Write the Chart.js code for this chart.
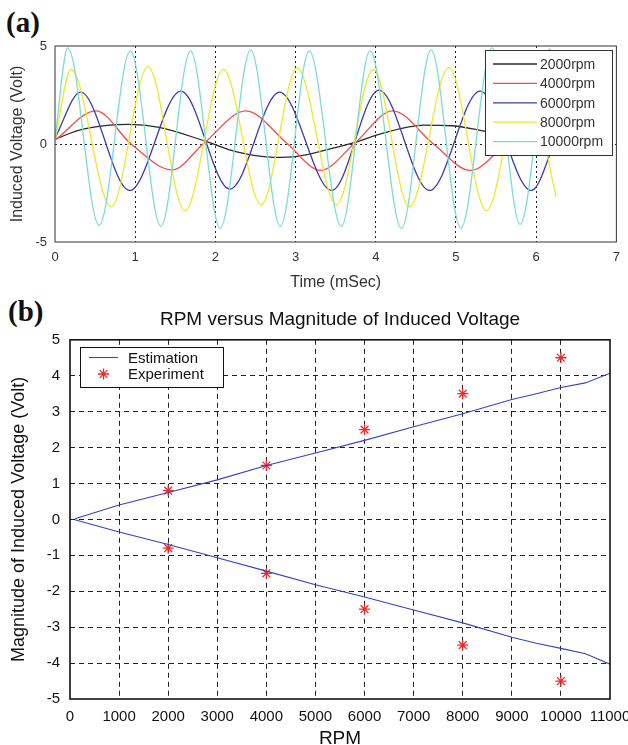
<!DOCTYPE html>
<html>
<head>
<meta charset="utf-8">
<script src="https://cdn.jsdelivr.net/npm/chart.js@4/dist/chart.umd.min.js"></script>
<style>
body { margin: 0; background: #fff; width: 628px; height: 745px; overflow: hidden; position: relative; }
.tag { position: absolute; font: bold 29px "Liberation Serif", serif; line-height: 29px; color: #111; }
#wa { position: absolute; left: 0; top: 0; }
#wb { position: absolute; left: 0; top: 290px; }
</style>
</head>
<body>
<div class="tag" style="left:6px;top:8px">(a)</div>
<div class="tag" style="left:8px;top:297px">(b)</div>
<canvas id="wa" width="628" height="290"></canvas>
<canvas id="wb" width="640" height="455"></canvas>
<script>
// (a) scope traces - peaks / troughs (time in ms, volts)
var t2000 = [0, 0.35, 0.92, 1.3, 1.87, 2.28, 2.73, 3.02, 3.43, 3.74, 4.05, 4.6, 4.95, 5.3, 5.8, 6.25];
var v2000 = [0.25, 0.76, 1.0, 0.85, 0.15, -0.42, -0.68, -0.63, -0.25, 0.08, 0.5, 0.96, 0.93, 0.7, 0.3, -0.1];
var t4000 = [0, 0.51, 0.95, 1.46, 1.86, 2.38, 2.9, 3.31, 3.74, 4.21, 4.72, 5.18, 5.62, 6.1, 6.25];
var v4000 = [0.2, 1.69, 0, -1.32, 0.05, 1.69, 0, -1.35, 0.05, 1.69, 0, -1.35, 0, 1.6, 1.5];
var t6000 = [0, 0.32, 0.93, 1.57, 2.18, 2.8, 3.45, 4.04, 4.67, 5.3, 5.94, 6.25];
var v6000 = [0.3, 2.65, -2.37, 2.7, -2.3, 2.65, -2.37, 2.75, -2.37, 2.7, -2.37, 0.3];
var t8000 = [0, 0.2, 0.7, 1.16, 1.62, 2.1, 2.57, 3.02, 3.51, 3.97, 4.42, 4.91, 5.38, 5.85, 6.25];
var v8000 = [0.2, 3.8, -3.2, 3.95, -3.4, 3.8, -3.1, 3.87, -3.1, 3.8, -3.2, 3.9, -3.4, 3.8, -2.7];
var t10000 = [0, 0.16, 0.55, 0.94, 1.32, 1.69, 2.06, 2.44, 2.81, 3.17, 3.57, 3.93, 4.32, 4.69, 5.06, 5.45, 5.8, 6.17, 6.25];
var v10000 = [0.3, 4.9, -4.15, 4.75, -4.2, 4.75, -4.3, 4.8, -4.2, 4.75, -4.2, 4.75, -4.3, 4.8, -4.3, 4.9, -4.1, 4.85, 3.5];
var rpmNames = ['2000rpm', '4000rpm', '6000rpm', '8000rpm', '10000rpm'];

// (b) magnitude vs rpm
var rpmEst = [100, 1000, 2000, 3000, 4000, 5000, 6000, 7000, 8000, 9000, 9500, 10000, 10500, 11000];
var estPos = [0.02, 0.40, 0.75, 1.10, 1.50, 1.85, 2.20, 2.58, 2.94, 3.34, 3.50, 3.67, 3.80, 4.07];
var estNeg = [-0.01, -0.35, -0.70, -1.07, -1.44, -1.82, -2.16, -2.52, -2.88, -3.28, -3.45, -3.59, -3.74, -4.03];
var rpmExp = [2000, 4000, 6000, 8000, 10000];
var expPos = [0.8, 1.5, 2.5, 3.5, 4.5];
var expNeg = [-0.8, -1.5, -2.5, -3.5, -4.5];

var FONT = '"Liberation Sans", Arial, sans-serif';

function pts(xs, ys) {
  return xs.map(function (x, i) { return { x: x, y: ys[i] }; });
}

// box round the plot area (matlab style)
var frame = {
  id: 'frame',
  afterDraw: function (chart, args, o) {
    var a = chart.chartArea, c = chart.ctx;
    c.save();
    c.strokeStyle = o.color;
    c.lineWidth = o.width;
    c.strokeRect(a.left, a.top, a.right - a.left, a.bottom - a.top);
    c.restore();
  }
};

// legend with a box, placed inside the axes
var boxLegend = {
  id: 'boxLegend',
  afterDraw: function (chart, args, o) {
    var c = chart.ctx;
    c.save();
    c.fillStyle = '#fff';
    c.fillRect(o.x, o.y, o.w, o.h);
    c.strokeStyle = o.border;
    c.lineWidth = 1;
    c.strokeRect(o.x + 0.5, o.y + 0.5, o.w, o.h);
    c.font = o.font;
    c.textBaseline = 'middle';
    c.textAlign = 'left';
    o.items.forEach(function (idx, k) {
      var ds = chart.data.datasets[idx];
      var y = o.y + o.first + k * o.step;
      c.strokeStyle = ds.borderColor;
      c.lineWidth = ds.borderWidth || 1;
      c.beginPath();
      if (ds.showLine === false) {
        var cx = (o.x0 + o.x1) / 2, r = 5.5, d = r * 0.7;
        c.moveTo(cx - r, y); c.lineTo(cx + r, y);
        c.moveTo(cx, y - r); c.lineTo(cx, y + r);
        c.moveTo(cx - d, y - d); c.lineTo(cx + d, y + d);
        c.moveTo(cx - d, y + d); c.lineTo(cx + d, y - d);
      } else {
        c.moveTo(o.x0, y); c.lineTo(o.x1, y);
      }
      c.stroke();
      c.fillStyle = o.color;
      c.fillText(ds.label, o.tx, y + 1);
    });
    c.restore();
  }
};

function trace(label, xs, ys, color, order) {
  return {
    label: label, data: pts(xs, ys), showLine: true, borderColor: color,
    borderWidth: 1.3, pointRadius: 0, cubicInterpolationMode: 'monotone', order: order
  };
}

var hide = 'rgba(0,0,0,0)';

new Chart(document.getElementById('wa'), {
  type: 'scatter',
  data: {
    datasets: [
      trace(rpmNames[0], t2000, v2000, '#2a2a2a', 5),
      trace(rpmNames[1], t4000, v4000, 'rgb(245,75,75)', 4),
      trace(rpmNames[2], t6000, v6000, 'rgb(60,60,175)', 3),
      trace(rpmNames[3], t8000, v8000, 'rgb(238,232,45)', 2),
      trace(rpmNames[4], t10000, v10000, 'rgb(125,220,212)', 1)
    ]
  },
  options: {
    responsive: false,
    animation: false,
    layout: { padding: { top: 46, right: 5, left: 0, bottom: 0 } },
    plugins: {
      legend: { display: false },
      tooltip: { enabled: false },
      frame: { color: '#333', width: 1 },
      boxLegend: {
        x: 485, y: 50, w: 127, h: 105, first: 14, step: 19.4,
        x0: 493, x1: 537, tx: 540, font: '14px ' + FONT, color: '#333', border: '#333',
        items: [0, 1, 2, 3, 4]
      }
    },
    scales: {
      x: {
        type: 'linear', min: 0, max: 7,
        ticks: { stepSize: 1, padding: 8, maxRotation: 0, color: '#333', font: { family: FONT, size: 13 } },
        grid: {
          drawTicks: false, lineWidth: 1, borderDash: [2, 3],
          color: function (c) { return (c.tick && (c.tick.value === 0 || c.tick.value === 7)) ? hide : '#222'; }
        },
        border: { display: false, dash: [2, 3] },
        title: { display: true, text: 'Time (mSec)', color: '#333', padding: 0, font: { family: FONT, size: 16, lineHeight: 0.9 } },
        afterFit: function (s) { s.height = 48; }
      },
      y: {
        min: -5, max: 5,
        ticks: { stepSize: 5, padding: 8, color: '#333', font: { family: FONT, size: 13 } },
        grid: {
          drawTicks: false, lineWidth: 1, borderDash: [2, 3],
          color: function (c) { return (c.tick && c.tick.value === 0) ? '#222' : hide; }
        },
        border: { display: false, dash: [2, 3] },
        title: { display: true, text: 'Induced Voltage (Volt)', color: '#333', padding: { top: 8, bottom: 0 }, font: { family: FONT, size: 16 } },
        afterFit: function (s) { s.width = 55; }
      }
    }
  },
  plugins: [frame, boxLegend]
});

new Chart(document.getElementById('wb'), {
  type: 'scatter',
  data: {
    datasets: [
      { label: 'Estimation', data: pts(rpmEst, estPos), showLine: true, borderColor: 'rgb(50,70,185)', borderWidth: 1.1, pointRadius: 0 },
      { label: 'Estimation', data: pts(rpmEst, estNeg), showLine: true, borderColor: 'rgb(50,70,185)', borderWidth: 1.1, pointRadius: 0 },
      { label: 'Experiment', data: pts(rpmExp, expPos), showLine: false, pointStyle: 'star', pointRadius: 5.5, borderColor: 'rgb(235,45,45)', borderWidth: 1.3 },
      { label: 'Experiment', data: pts(rpmExp, expNeg), showLine: false, pointStyle: 'star', pointRadius: 5.5, borderColor: 'rgb(235,45,45)', borderWidth: 1.3 }
    ]
  },
  options: {
    responsive: false,
    animation: false,
    layout: { padding: { top: 0, right: 30, left: 0, bottom: 0 } },
    plugins: {
      legend: { display: false },
      tooltip: { enabled: false },
      title: {
        display: true, fullSize: false, text: 'RPM versus Magnitude of Induced Voltage', color: '#111',
        font: { family: FONT, size: 19, weight: 'normal', lineHeight: 1.2 }, padding: { top: 18, bottom: 9 }
      },
      frame: { color: '#111', width: 1.6 },
      boxLegend: {
        x: 80, y: 57, w: 143, h: 40, first: 10.5, step: 16.5,
        x0: 89, x1: 118, tx: 128, font: '15px ' + FONT, color: '#111', border: '#111',
        items: [0, 2]
      }
    },
    scales: {
      x: {
        type: 'linear', min: 0, max: 11000,
        ticks: { stepSize: 1000, padding: 9, autoSkip: false, maxRotation: 0, color: '#111', font: { family: FONT, size: 15 },
          callback: function (v) { return v; } },
        grid: {
          drawTicks: false, lineWidth: 1, borderDash: [5, 4],
          color: function (c) { return (c.tick && (c.tick.value === 0 || c.tick.value === 11000)) ? hide : '#222'; }
        },
        border: { display: false, dash: [5, 4] },
        title: { display: true, text: 'RPM', color: '#111', padding: 0, font: { family: FONT, size: 19, lineHeight: 0.7 } },
        afterFit: function (s) { s.height = 46; }
      },
      y: {
        min: -5, max: 5,
        ticks: { stepSize: 1, padding: 10, color: '#111', font: { family: FONT, size: 15 } },
        grid: {
          drawTicks: false, lineWidth: 1, borderDash: [5, 4],
          color: function (c) { return (c.tick && (c.tick.value === -5 || c.tick.value === 5)) ? hide : '#222'; }
        },
        border: { display: false, dash: [5, 4] },
        title: { display: true, text: 'Magnitude of Induced Voltage (Volt)', color: '#111', padding: { top: 8, bottom: 0 }, font: { family: FONT, size: 18 } },
        afterFit: function (s) { s.width = 70; }
      }
    }
  },
  plugins: [frame, boxLegend]
});
</script>
</body>
</html>
